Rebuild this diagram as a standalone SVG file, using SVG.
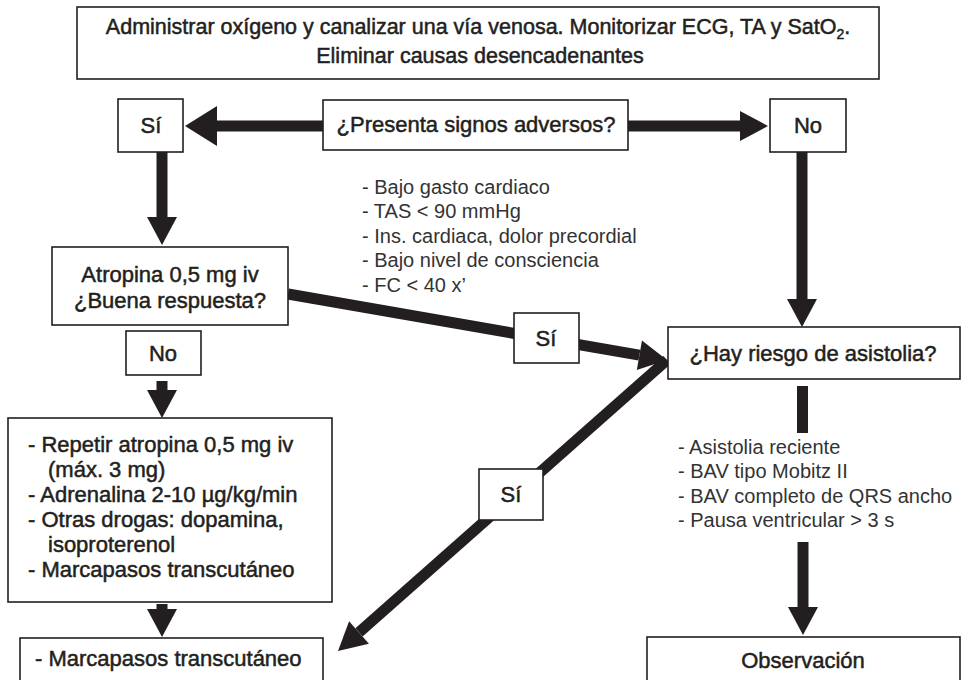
<svg xmlns="http://www.w3.org/2000/svg" width="977" height="680" viewBox="0 0 977 680">
  <style>
    .box { fill: #ffffff; stroke: #231f20; stroke-width: 1.6; }
    .t { font-family: "Liberation Sans", Arial, sans-serif; font-size: 22px; fill: #231f20; stroke: #231f20; stroke-width: 0.5; }
    .top { font-size: 21.5px; }
    .c { text-anchor: middle; }
    .lt { font-family: "Liberation Sans", Arial, sans-serif; font-size: 20px; fill: #333333; }
    .shaft { stroke: #231f20; stroke-width: 11; fill: none; }
    .bar { fill: #231f20; }
  </style>
  <defs>
    <!-- arrowheads: the base sits on the shaft end, the tip points forward -->
    <marker id="headL" markerUnits="userSpaceOnUse" markerWidth="34" markerHeight="42" refX="0" refY="0" orient="auto" overflow="visible">
      <path d="M0,-20 L32,0 L0,20 Z" fill="#231f20"/>
    </marker>
    <marker id="head" markerUnits="userSpaceOnUse" markerWidth="30" markerHeight="32" refX="0" refY="0" orient="auto" overflow="visible">
      <path d="M0,-15 L28,0 L0,15 Z" fill="#231f20"/>
    </marker>
  </defs>

  <!-- connectors -->
  <g id="connectors">
    <line class="shaft" x1="323" y1="126" x2="217" y2="126" marker-end="url(#headL)"/>
    <line class="shaft" x1="628" y1="126" x2="740" y2="126" marker-end="url(#head)"/>
    <line class="shaft" x1="162" y1="152" x2="162" y2="217" marker-end="url(#head)"/>
    <line class="shaft" x1="802" y1="152" x2="802" y2="299" marker-end="url(#head)"/>
    <line class="shaft" x1="288" y1="294" x2="639.4" y2="355.2" marker-end="url(#head)"/>
    <line class="shaft" x1="667" y1="360" x2="359" y2="632.4" marker-end="url(#head)"/>
    <line class="shaft" x1="162" y1="381" x2="162" y2="390" marker-end="url(#head)"/>
    <line class="shaft" x1="162" y1="604" x2="162" y2="609" marker-end="url(#head)"/>
    <rect class="bar" x="797" y="386" width="11" height="47"/>
    <line class="shaft" x1="803" y1="542" x2="803" y2="607" marker-end="url(#head)"/>
  </g>

  <g id="start">
    <rect class="box" x="77" y="7" width="802" height="72"/>
    <text class="t top c" x="478" y="34">Administrar oxígeno y canalizar una vía venosa. Monitorizar ECG, TA y SatO<tspan font-size="14" dy="5">2</tspan><tspan dy="-5">.</tspan></text>
    <text class="t top c" x="480" y="63">Eliminar causas desencadenantes</text>
  </g>

  <g id="adversos">
    <rect class="box" x="323" y="100" width="305" height="50"/>
    <text class="t c" x="476" y="132">¿Presenta signos adversos?</text>
  </g>

  <g id="si-adversos">
    <rect class="box" x="118" y="99" width="65" height="53"/>
    <text class="t c" x="151" y="133">Sí</text>
  </g>

  <g id="no-adversos">
    <rect class="box" x="770" y="99" width="76" height="53"/>
    <text class="t c" x="808" y="133">No</text>
  </g>

  <g id="signos">
    <text class="lt" x="362" y="194">- Bajo gasto cardiaco</text>
    <text class="lt" x="362" y="218">- TAS &lt; 90 mmHg</text>
    <text class="lt" x="362" y="243">- Ins. cardiaca, dolor precordial</text>
    <text class="lt" x="362" y="267">- Bajo nivel de consciencia</text>
    <text class="lt" x="362" y="292">- FC &lt; 40 x’</text>
  </g>

  <g id="atropina">
    <rect class="box" x="52" y="247" width="236" height="78"/>
    <text class="t c" x="170" y="282">Atropina 0,5 mg iv</text>
    <text class="t c" x="170" y="308">¿Buena respuesta?</text>
  </g>

  <g id="no-respuesta">
    <rect class="box" x="126" y="331" width="75" height="44"/>
    <text class="t c" x="163" y="361">No</text>
  </g>

  <g id="si-respuesta">
    <rect class="box" x="514" y="313" width="65" height="50"/>
    <text class="t c" x="546" y="346">Sí</text>
  </g>

  <g id="riesgo">
    <rect class="box" x="668" y="327" width="292" height="52"/>
    <text class="t c" x="813" y="361">¿Hay riesgo de asistolia?</text>
  </g>

  <g id="tratamiento">
    <rect class="box" x="8" y="418" width="324" height="184"/>
    <text class="t" x="28" y="452">- Repetir atropina 0,5 mg iv</text>
    <text class="t" x="48" y="477">(máx. 3 mg)</text>
    <text class="t" x="28" y="502">- Adrenalina 2-10 µg/kg/min</text>
    <text class="t" x="28" y="527">- Otras drogas: dopamina,</text>
    <text class="t" x="48" y="552">isoproterenol</text>
    <text class="t" x="28" y="577">- Marcapasos transcutáneo</text>
  </g>

  <g id="si-riesgo">
    <rect class="box" x="479" y="469" width="64" height="51"/>
    <text class="t c" x="511" y="502">Sí</text>
  </g>

  <g id="criterios">
    <text class="lt" x="678" y="454">- Asistolia reciente</text>
    <text class="lt" x="678" y="478">- BAV tipo Mobitz II</text>
    <text class="lt" x="678" y="503">- BAV completo de QRS ancho</text>
    <text class="lt" x="678" y="527">- Pausa ventricular &gt; 3 s</text>
  </g>

  <g id="marcapasos">
    <rect class="box" x="20" y="638" width="303" height="55"/>
    <text class="t" x="35" y="666">- Marcapasos transcutáneo</text>
  </g>

  <g id="observacion">
    <rect class="box" x="647" y="637" width="313" height="56"/>
    <text class="t c" x="803" y="668">Observación</text>
  </g>
</svg>
